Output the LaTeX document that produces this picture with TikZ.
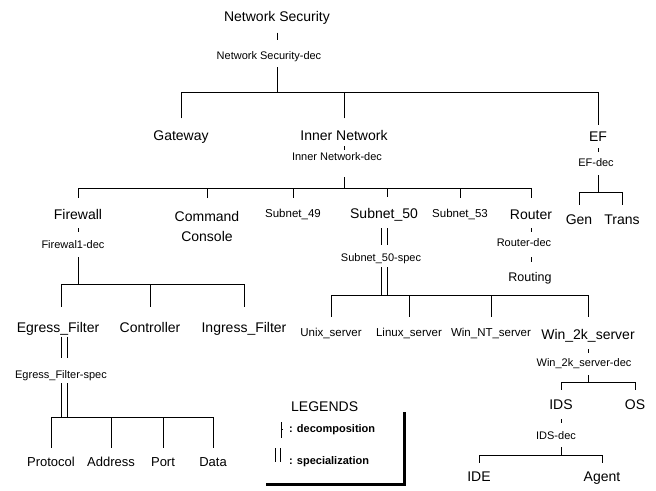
\documentclass[tikz,border=0pt]{standalone}
\usepackage{fontspec}
\setmainfont{Liberation Sans}
\begin{document}
\begin{tikzpicture}[x=1pt,y=-1pt,
  lbl/.style={inner sep=1pt},
  big/.style={lbl, font=\fontsize{14}{16}\selectfont, text height=10pt, text depth=3pt},
  mid/.style={lbl, font=\fontsize{11.5}{13}\selectfont, text height=8.3pt, text depth=2.4pt},
  sml/.style={lbl, font=\fontsize{11}{12}\selectfont, text height=8pt, text depth=2.2pt},
  leaf/.style={lbl, font=\fontsize{13}{15}\selectfont, text height=9.4pt, text depth=2.7pt},
  rte/.style={lbl, font=\fontsize{12.5}{14}\selectfont, text height=9pt, text depth=2.6pt},
  legtxt/.style={lbl, anchor=west, font=\fontsize{11}{12}\selectfont\bfseries},
  link/.style={line width=0.9pt},
  frame/.style={line width=3pt, line join=miter},
]
\useasboundingbox (0,0) rectangle (656,490);

% ---- labels ----
\node[big] (ns) at (277,18) {Network Security};
\node[sml] (nsdec) at (269,57) {Network Security-dec};
\node[big] (gw) at (181,137) {Gateway};
\node[big] (inn) at (344,137) {Inner Network};
\node[big] (ef) at (598,138) {EF};
\node[sml] (inndec) at (337,158) {Inner Network-dec};
\node[sml] (efdec) at (596,164) {EF-dec};
\node[big] (gen) at (579,221) {Gen};
\node[big] (trans) at (622,221) {Trans};

\node[big] (fw) at (78,216) {Firewall};
\node[lbl, font=\fontsize{14}{20}\selectfont, align=center, anchor=north] (cc) at (207,210) {Command\\Console};
\node[mid] (s49) at (293,215) {Subnet\_49};
\node[big] (s50) at (384,215) {Subnet\_50};
\node[mid] (s53) at (460,215) {Subnet\_53};
\node[big] (rt) at (531,216) {Router};
\node[sml] (fwdec) at (73,246) {Firewal1-dec};
\node[sml] (rtdec) at (524,244) {Router-dec};
\node[rte] (rting) at (530,278) {Routing};
\node[sml] (s50spec) at (381,259) {Subnet\_50-spec};

\node[big] (eg) at (58,329) {Egress\_Filter};
\node[big] (ctl) at (150,329) {Controller};
\node[big] (ing) at (244,329) {Ingress\_Filter};
\node[sml] (egspec) at (61,376) {Egress\_Filter-spec};
\node[leaf] (proto) at (51,463) {Protocol};
\node[leaf] (addr) at (111,463) {Address};
\node[leaf] (port) at (163,463) {Port};
\node[leaf] (data) at (213,463) {Data};

\node[mid] (unix) at (331,334) {Unix\_server};
\node[mid] (linux) at (409,334) {Linux\_server};
\node[mid] (wnt) at (491,334) {Win\_NT\_server};
\node[big] (w2k) at (588,336) {Win\_2k\_server};
\node[sml] (w2kdec) at (584,364) {Win\_2k\_server-dec};
\node[big] (ids) at (561,406) {IDS};
\node[big] (os) at (635,406) {OS};
\node[sml] (idsdec) at (556,437) {IDS-dec};
\node[big] (ide) at (479,478) {IDE};
\node[big] (agent) at (602,478) {Agent};

% ---- bus levels ----
\coordinate (topbus) at (0,92);
\coordinate (innbus) at (0,188);
\coordinate (efbus) at (0,192);
\coordinate (fwbus) at (0,284);
\coordinate (s50bus) at (0,295);
\coordinate (w2kbus) at (0,382);
\coordinate (egbus) at (0,417);
\coordinate (idsbus) at (0,455);

% ---- specialization links: pairs of parallel lines ----
\foreach \dx in {-3,3} {
  \draw[link, shorten <=5.6pt, shorten >=8pt] ([xshift=\dx pt]s50.south) -- ([xshift=\dx pt]s50.south |- s50spec.north);
  \draw[link, shorten <=2pt] ([xshift=\dx pt]s50.south |- s50spec.south) -- ([xshift=\dx pt]s50.south |- s50bus);
  \draw[link, shorten >=12pt] ([xshift=6pt+\dx pt]eg.south) -- ([xshift=6pt+\dx pt]eg.south |- egspec.north);
  \draw[link, shorten <=1pt] ([xshift=6pt+\dx pt]eg.south |- egspec.south) -- ([xshift=6pt+\dx pt]eg.south |- egbus);
}

% ---- Network Security ----
\draw[link, shorten <=7pt, shorten >=11pt] (ns.south) -- (ns.south |- nsdec.north);
\draw[link, shorten <=4pt] (ns.south |- nsdec.south) -- (ns.south |- topbus);
\draw[link, shorten <=11pt, shorten >=5pt] (gw.north) -- (gw.north |- topbus) -- (ef.north |- topbus) -- (ef.north);
\draw[link, shorten <=11pt] (inn.north) -- (inn.north |- topbus);

% ---- Inner Network ----
\draw[link, shorten <=1.5pt, shorten >=1.5pt] (inn.south) -- (inn.south |- inndec.north);
\draw[link, shorten <=13pt] (inn.south |- inndec.south) -- (inn.south |- innbus);
\draw[link, shorten <=10.6pt, shorten >=10.6pt] (fw.north) -- (fw.north |- innbus) -- (rt.north |- innbus) -- (rt.north);
\draw[link, shorten <=12pt] (cc.north) -- (cc.north |- innbus);
\draw[link, shorten <=10.6pt] (s49.north) -- (s49.north |- innbus);
\draw[link, shorten <=10.6pt] ([xshift=3pt]s50.north) -- ([xshift=3pt]s50.north |- innbus);
\draw[link, shorten <=10.6pt] (s53.north) -- (s53.north |- innbus);

% ---- EF ----
\draw[link, shorten <=2.6pt, shorten >=6pt] (ef.south) -- (ef.south |- efdec.north);
\draw[link, shorten <=5pt] (ef.south |- efdec.south) -- (ef.south |- efbus);
\draw[link, shorten <=8.6pt, shorten >=8.6pt] (gen.north) -- (gen.north |- efbus) -- (trans.north |- efbus) -- (trans.north);

% ---- Firewall ----
\draw[link, shorten <=4.6pt, shorten >=8pt] (fw.south) -- (fw.south |- fwdec.north);
\draw[link, shorten <=5pt] (fw.south |- fwdec.south) -- (fw.south |- fwbus);
\draw[link, shorten <=14.6pt, shorten >=14.6pt] ([xshift=3pt]eg.north) -- ([xshift=3pt]eg.north |- fwbus) -- (ing.north |- fwbus) -- (ing.north);
\draw[link, shorten <=14.6pt] (ctl.north) -- (ctl.north |- fwbus);

% ---- Egress_Filter children ----
\draw[link, shorten <=8pt, shorten >=8pt] (proto.north) -- (proto.north |- egbus) -- (data.north |- egbus) -- (data.north);
\draw[link, shorten <=8pt] (addr.north) -- (addr.north |- egbus);
\draw[link, shorten <=8pt] (port.north) -- (port.north |- egbus);

% ---- Router ----
\draw[link, shorten <=4.6pt, shorten >=6pt] (rt.south) -- (rt.south |- rtdec.north);
\draw[link, shorten <=7pt, shorten >=9pt] (rt.south |- rtdec.south) -- (rt.south |- rting.north);

% ---- Subnet_50 children ----
\draw[link, shorten <=10.6pt, shorten >=11.5pt] (unix.north) -- (unix.north |- s50bus) -- (w2k.north |- s50bus) -- (w2k.north);
\draw[link, shorten <=10.6pt] (linux.north) -- (linux.north |- s50bus);
\draw[link, shorten <=10.6pt] (wnt.north) -- (wnt.north |- s50bus);

% ---- Win_2k_server ----
\draw[link, shorten <=5.5pt, shorten >=5pt] (w2k.south) -- (w2k.south |- w2kdec.north);
\draw[link, shorten <=5pt] (w2k.south |- w2kdec.south) -- (w2k.south |- w2kbus);
\draw[link, shorten <=8.6pt, shorten >=8.6pt] (ids.north) -- (ids.north |- w2kbus) -- (os.north |- w2kbus) -- (os.north);

% ---- IDS ----
\draw[link, shorten <=5.6pt, shorten >=8pt] (ids.south) -- (ids.south |- idsdec.north);
\draw[link, shorten <=4pt] (ids.south |- idsdec.south) -- (ids.south |- idsbus);
\draw[link, shorten <=7.6pt, shorten >=7.6pt] (ide.north) -- (ide.north |- idsbus) -- (agent.north |- idsbus) -- (agent.north);

% ---- legend ----
\node[lbl, anchor=west, font=\fontsize{14}{16}\selectfont] (leg) at (290,407) {LEGENDS};
\node[legtxt] (ldec) at (288,430) {: decomposition};
\node[legtxt] (lspec) at (288,462) {: specialization};
\draw[link] (281,422) -- (281,438);
\draw[link] (281,429) -- (282.8,429);
\draw[link] (275,448) -- (275,462);
\draw[link] (280,448) -- (280,462);
\draw[frame] (266,484) -- (404,484) -- (404,412);
\end{tikzpicture}
\end{document}
